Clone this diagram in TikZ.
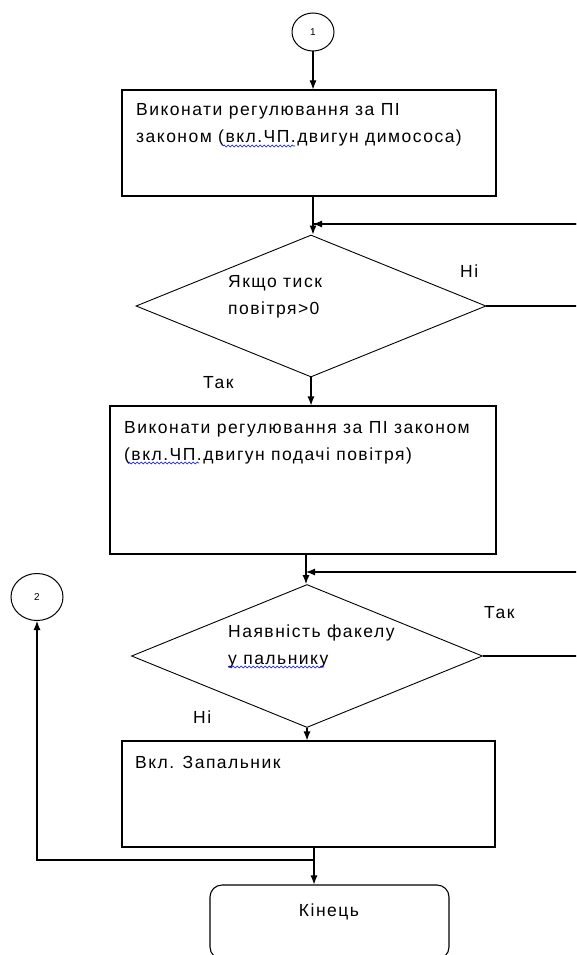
\documentclass[tikz,border=0pt]{standalone}
\usepackage{fontspec}
\setmainfont[LetterSpace=8.5]{Liberation Sans}
\usetikzlibrary{shapes.geometric,arrows.meta,decorations.pathmorphing}

\tikzset{
  box/.style={draw, rectangle, line width=1.1pt, inner sep=0pt},
  decision/.style={draw, diamond, line width=0.9pt, inner sep=0pt},
  connector/.style={draw, ellipse, line width=1pt, inner sep=0pt, font=\fontsize{10}{12}\selectfont},
  term/.style={draw, rectangle, rounded corners=12pt, line width=1.1pt, inner sep=0pt},
  txt/.style={inner sep=0pt, align=left, anchor=west, font=\fontsize{17.5}{27}\selectfont},
  flow/.style={line width=1.1pt, -{Latex[length=9pt,width=7pt]}},
  wire/.style={line width=1.1pt},
  spell/.style={blue, line width=0.6pt, decorate, decoration={snake, amplitude=0.9pt, segment length=4pt}}
}

\begin{document}
\begin{tikzpicture}[x=1pt, y=-1pt]
\path[use as bounding box, clip] (0,0) rectangle (576,955);

% blocks
\node[connector, minimum width=42pt, minimum height=38pt] (c1) at (313,32) {1};
\node[box, minimum width=374pt, minimum height=106pt] (b1) at (309,143) {};
\node[decision, minimum width=350pt, minimum height=142pt] (d1) at (311,306) {};
\node[box, minimum width=386pt, minimum height=148pt] (b2) at (303,480) {};
\node[decision, minimum width=351pt, minimum height=143pt] (d2) at (307,656) {};
\node[box, minimum width=373pt, minimum height=106pt] (b3) at (308.5,794) {};
\node[connector, minimum width=52pt, minimum height=47pt] (c2) at (37,597) {2};
\node[term, minimum width=239pt, minimum height=74pt] (end) at (329.5,922) {};

% texts
\node[txt] (t1) at (136,125) {Виконати регулювання за ПІ\\законом (вкл.ЧП.двигун димососа)};
\node[txt] (t2) at (228,297) {Якщо тиск\\повітря>0};
\node[txt] (t3) at (124,443) {Виконати регулювання за ПІ законом\\(вкл.ЧП.двигун подачі повітря)};
\node[txt] (t4) at (228,646) {Наявність факелу\\у пальнику};
\node[txt] (t5) at (135,762) {Вкл. Запальник};
\node[txt, anchor=center] (t6) at (329,912) {Кінець};

\node[txt] (n1) at (460,271) {Ні};
\node[txt] (y1) at (203,383) {Так};
\node[txt] (y2) at (484,613) {Так};
\node[txt] (n2) at (193,717) {Ні};

% spelling marks
\draw[spell] (223,146) -- (295,146);
\draw[spell] (128,463) -- (199,463);
\draw[spell] (228,667) -- (324,667);

% joints
\coordinate (j1) at (313,224);
\coordinate (j2) at (306,572);
\coordinate (j3) at (314,860);
\coordinate (r1) at (590,306);
\coordinate (r2) at (590,656);

\draw[flow] (c1.south) -- (c1.south |- b1.north);
\draw[flow] (b1.south -| j1) -- (j1 |- d1.north);
\draw[wire] (d1.east) -- (r1) |- (j1);
\draw[flow] (r1 |- j1) -- (j1);
\draw[flow] (d1.south) -- (d1.south |- b2.north);
\draw[flow] (b2.south -| j2) -- (j2 |- d2.north);
\draw[wire] (d2.east) -- (r2);
\draw[flow] (r2) |- (j2);
\draw[flow] (d2.south) -- (d2.south |- b3.north);
\draw[flow] (b3.south -| j3) -- (j3 |- end.north);
\draw[flow] (j3) -| (c2.south);
\end{tikzpicture}
\end{document}
